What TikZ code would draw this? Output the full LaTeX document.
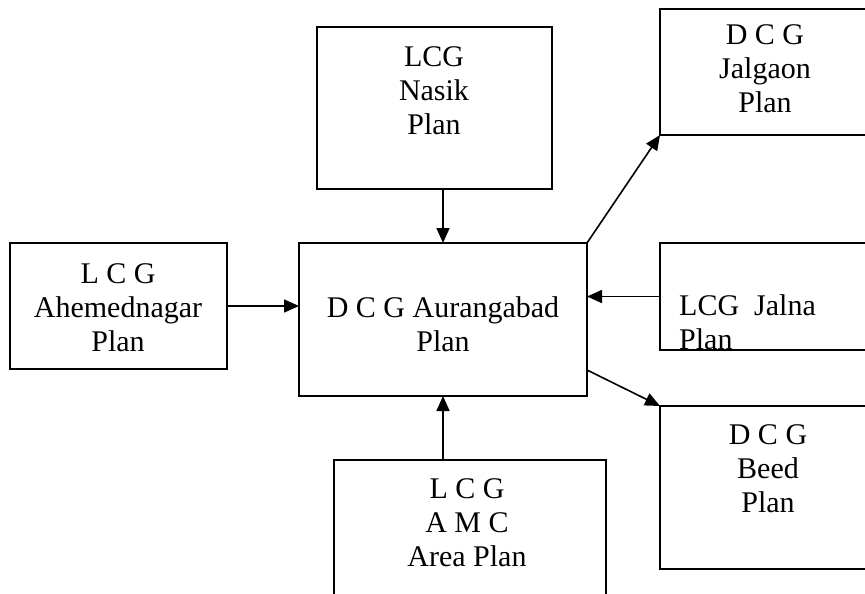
\documentclass[tikz,border=0pt]{standalone}
\usepackage{fontspec}
\setmainfont{Liberation Serif}
\usetikzlibrary{arrows.meta,calc}
\begin{document}
\begin{tikzpicture}[x=1pt,y=-1pt,
  box/.style={draw=black,line width=1.8pt,rectangle,inner sep=0pt,outer sep=0pt},
  txt/.style={align=center,inner sep=0pt,font=\fontsize{30}{34}\selectfont},
  arr/.style={line width=1.6pt,-{Triangle[length=15pt,width=13pt]}}]
\useasboundingbox (0,0) rectangle (865,594);
\clip (0,0) rectangle (865,594);
\fill[white] (0,0) rectangle (865,594);
% boxes
\node[box,minimum width=235pt,minimum height=162pt] (nasik) at (434.5,108) {};
\node[box,minimum width=288pt,minimum height=153pt] (aur) at (443,319.5) {};
\node[box,minimum width=217pt,minimum height=126pt] (ahm) at (118.5,306) {};
\node[box,minimum width=230pt,minimum height=126pt] (jal) at (775,72) {};
\node[box,minimum width=230pt,minimum height=107pt] (jna) at (775,296.5) {};
\node[box,minimum width=230pt,minimum height=163pt] (beed) at (775,487.5) {};
\node[box,minimum width=272pt,minimum height=160pt] (amc) at (470,540) {};
% texts
\node[txt] (tnasik) at (434,91) {LCG\\Nasik\\Plan};
\node[txt] (taur) at (443,324) {D C G Aurangabad\\Plan};
\node[txt] (tahm) at (118,308) {L C G\\Ahemednagar\\Plan};
\node[txt] (tjal) at (765,69) {D C G\\Jalgaon\\Plan};
\node[txt] (tbeed) at (768,469) {D C G\\Beed\\Plan};
\node[txt] (tamc) at (467,523) {L C G\\A M C\\Area Plan};
\begin{scope}
\clip (jna.north west) rectangle (jna.south east);
\node[txt,align=left,anchor=west] (tjna) at (679,322) {LCG\ \ Jalna\\Plan};
\end{scope}
% connectors
\coordinate (aurbeed) at ($(aur.south east)+(0,-26)$);
\draw[arr] (nasik.south -| aur.north) -- (aur.north);
\draw[arr] (ahm.east) -- (ahm.east -| aur.west);
\draw[arr] (amc.north -| aur.south) -- (aur.south);
\draw[arr] (jna.west) -- (jna.west -| aur.east);
\draw[arr] (aur.north east) -- (jal.south west);
\draw[arr] (aurbeed) -- (beed.north west);
\end{tikzpicture}
\end{document}
